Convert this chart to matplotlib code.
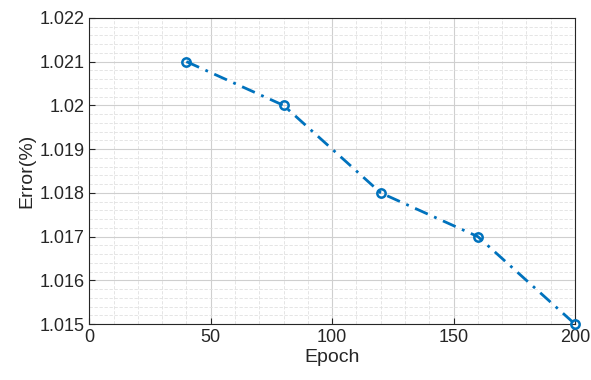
import matplotlib.pyplot as plt
from matplotlib.ticker import MultipleLocator

epochs = [40, 80, 120, 160, 200]
errors = [1.021, 1.020, 1.018, 1.017, 1.015]
xticks = [0, 50, 100, 150, 200]
yticks = [1.015, 1.016, 1.017, 1.018, 1.019, 1.020, 1.021, 1.022]
ylabels = ["1.015", "1.016", "1.017", "1.018", "1.019", "1.02", "1.021", "1.022"]

plt.rcParams['font.family'] = ['Arial', 'Liberation Sans', 'DejaVu Sans']

fig = plt.figure(figsize=(5.91, 3.80), dpi=100)
ax = fig.add_axes([0.151, 0.147, 0.822, 0.806])

ax.plot(epochs, errors, linestyle=(0, (5, 2.5, 1, 2.5)), color='#0072BD', linewidth=2,
        marker='o', markersize=6, markerfacecolor='none', markeredgewidth=1.8,
        clip_on=False, zorder=3)

ax.set_xlim(0, 200)
ax.set_ylim(1.015, 1.022)
ax.set_xticks(xticks)
ax.set_yticks(yticks)
ax.set_yticklabels(ylabels)
ax.xaxis.set_minor_locator(MultipleLocator(10))
ax.yaxis.set_minor_locator(MultipleLocator(0.0002))

ax.grid(True, which='major', color='#cfcfcf', linewidth=0.8)
ax.grid(True, which='minor', color='#e0e0e0', linewidth=0.6, linestyle=(0, (4, 2)))
ax.set_axisbelow(True)

ax.tick_params(which='both', direction='in', labelsize=13, colors='#262626')
ax.tick_params(which='minor', length=0)
ax.tick_params(which='major', length=4, top=False, right=False)
for s in ax.spines.values():
    s.set_color('#262626')
    s.set_linewidth(0.8)

ax.set_xlabel('Epoch', fontsize=14, color='#262626', labelpad=2)
ax.set_ylabel('Error(%)', fontsize=14, color='#262626', labelpad=3)

fig.savefig('out.png', dpi=100)
